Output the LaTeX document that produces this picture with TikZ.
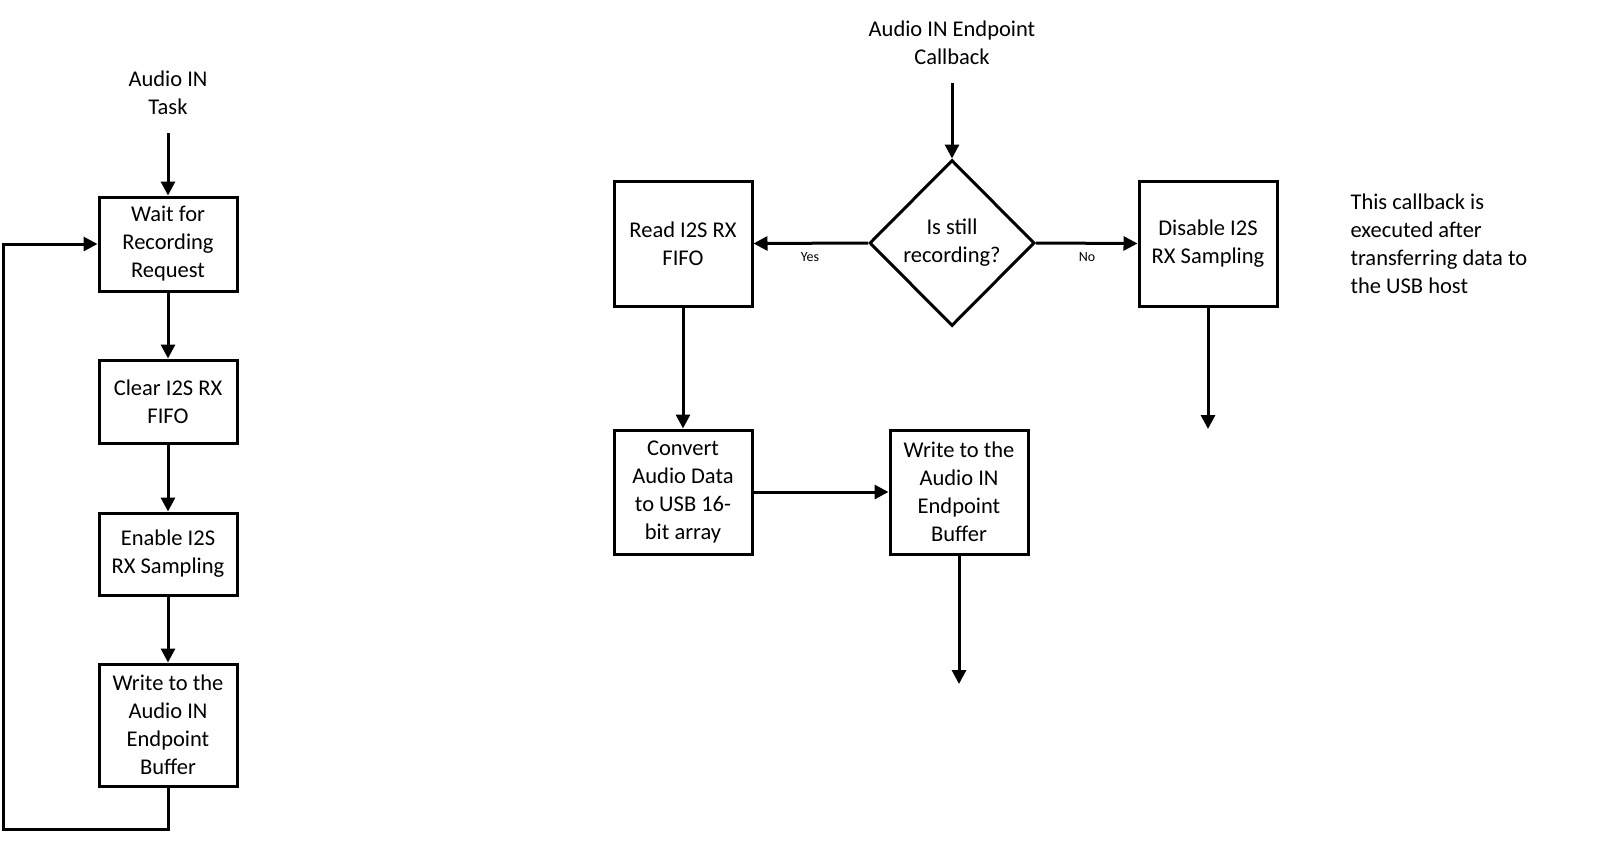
\documentclass[tikz,border=0pt]{standalone}
\usepackage{fontspec}
\setmainfont{Carlito}
\usetikzlibrary{arrows.meta,shapes.geometric}
\begin{document}
\begin{tikzpicture}[x=1pt,y=-1pt,
  every node/.style={font=\fontsize{22.5}{28}\selectfont, align=center},
  box/.style={draw, line width=3pt, minimum width=138pt, inner sep=0pt},
  dec/.style={draw, line width=3pt, diamond, minimum width=165pt, minimum height=166pt, inner sep=0pt},
  arr/.style={line width=3pt, -{Triangle[length=14pt,width=14pt]}},
  lbl/.style={font=\fontsize{14}{16}\selectfont}]
\useasboundingbox (0,0) rectangle (1606,852);
% left column
\node (t1) at (168,93) {Audio IN\\Task};
\coordinate (s1) at (168,133);
\node[box, minimum height=94pt] (w1) at (168,244) {Wait for\\Recording\\Request};
\node[box, minimum height=83pt] (w2) at (168,401.5) {Clear I2S RX\\FIFO};
\node[box, minimum height=82pt] (w3) at (168,554) {Enable I2S\\RX Sampling};
\node[box, minimum height=122pt] (w4) at (168,725) {Write to the\\Audio IN\\Endpoint\\Buffer};
\coordinate (lp) at (3,829);
\draw[arr] (s1) -- (w1.north);
\draw[arr] (w1) -- (w2);
\draw[arr] (w2) -- (w3);
\draw[arr] (w3) -- (w4);
\draw[arr, line join=miter] (w4.south) |- (lp) |- (w1.west);
% right part
\node (t2) at (952,43) {Audio IN Endpoint\\Callback};
\coordinate (s2) at (952,83);
\node[dec] (d) at (952,243) {Is still\\recording?};
\node[box, minimum height=125pt] (r) at (683,243.5) {Read I2S RX\\FIFO};
\node[box, minimum height=125pt] (x) at (1208,243.5) {Disable I2S\\RX Sampling};
\node[box, minimum height=124pt] (c) at (683,492) {Convert\\Audio Data\\to USB 16-\\bit array};
\node[box, minimum height=124pt] (b) at (959,492) {Write to the\\Audio IN\\Endpoint\\Buffer};
\coordinate (e1) at (1208,429);
\coordinate (e2) at (959,684);
\draw[arr] (s2) -- (d.north);
\draw[arr] (d.west) -- (r.east);
\draw[arr] (d.east) -- (x.west);
\node[lbl] (yes) at (810,257) {Yes};
\node[lbl] (no) at (1087,257) {No};
\draw[arr] (r) -- (c);
\draw[arr] (c) -- (b);
\draw[arr] (x.south) -- (e1);
\draw[arr] (b.south) -- (e2);
\node[anchor=west, align=left] (note) at (1347,244) {This callback is\\executed after\\transferring data to\\the USB host};
\end{tikzpicture}
\end{document}
